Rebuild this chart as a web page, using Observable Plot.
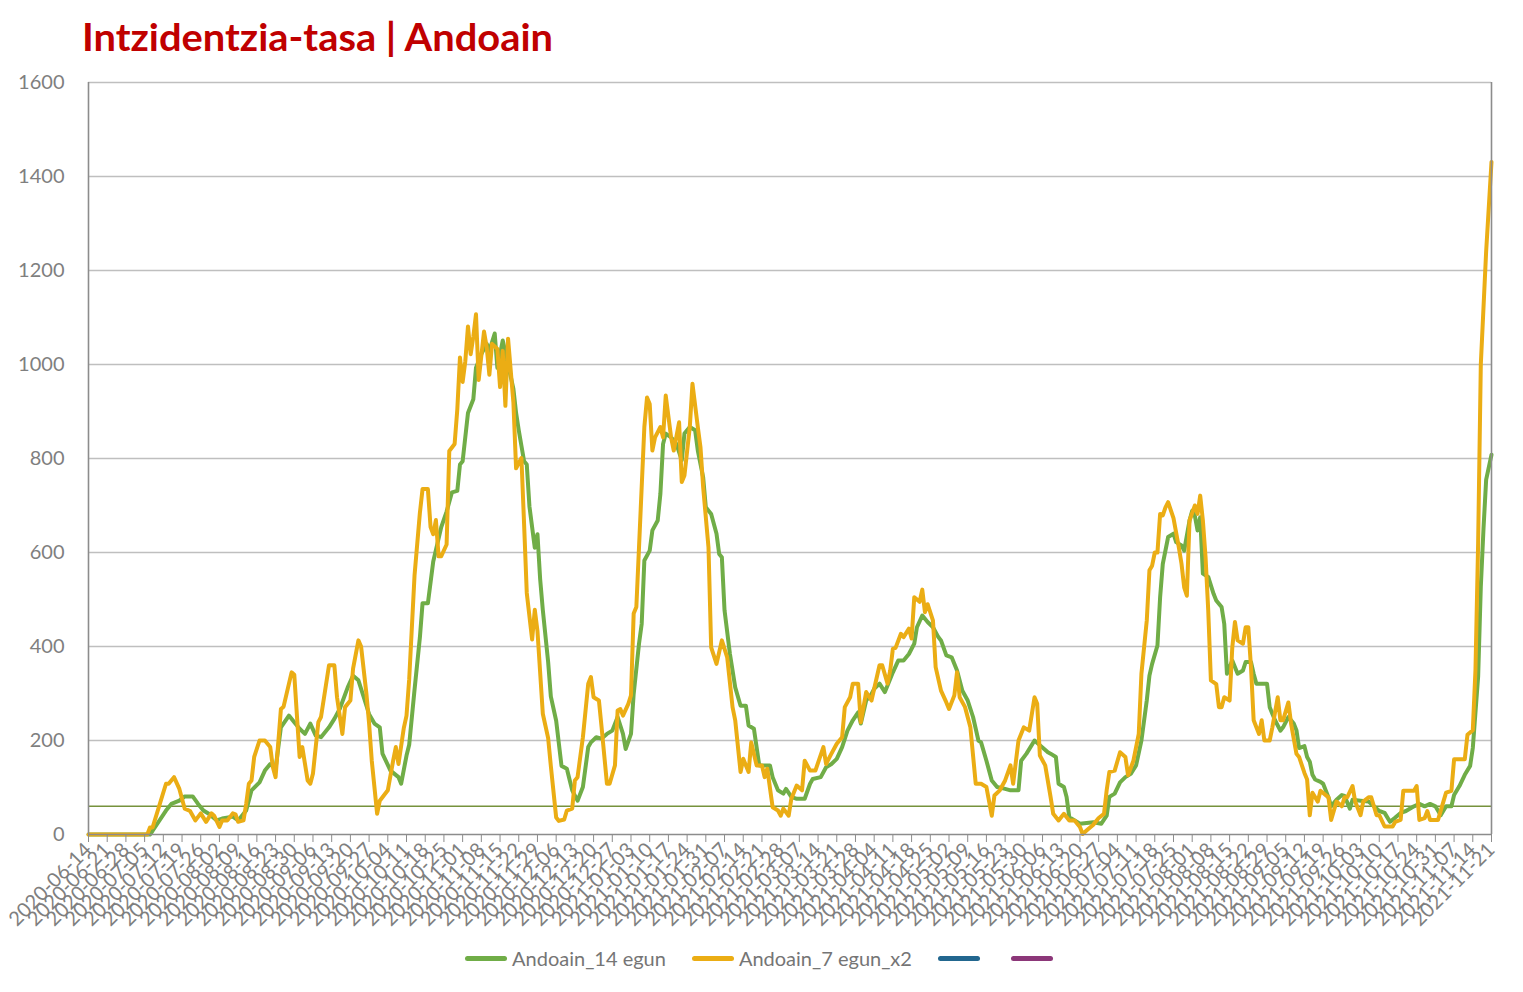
<!DOCTYPE html>
<html>
<head>
<meta charset="utf-8">
<script src="https://cdn.jsdelivr.net/npm/d3@7"></script>
<script src="https://cdn.jsdelivr.net/npm/@observablehq/plot@0.6"></script>
<style>
  html, body { margin: 0; padding: 0; background: #fff; }
  body { width: 1523px; height: 992px; position: relative; overflow: hidden; font-family: Lato, "Open Sans", sans-serif; }
  #title { position: absolute; left: 82px; top: 13px; font-size: 38px; font-weight: 700; color: #C00000; white-space: nowrap; transform-origin: 0 0; }
  #chart { position: absolute; left: 0; top: 0; }
  #legend { position: absolute; left: 0; width: 1523px; top: 946px; display: flex; justify-content: center; align-items: center; font-size: 20px; color: #757575; }
  .item { display: flex; align-items: center; margin: 0 13px; }
  .sw { width: 42px; height: 5px; border-radius: 3px; margin-right: 5px; }
</style>
</head>
<body>
<div id="title">Intzidentzia-tasa | Andoain</div>
<div id="chart"></div>
<div id="legend"></div>
<script>
// ---- data -------------------------------------------------------------
const startDate = "2020-06-14";   // day 0
const endDay = 525;               // 2021-11-21
const yTicks = [0, 200, 400, 600, 800, 1000, 1200, 1400, 1600];
const threshold = 60;
const seriesNames = ["Andoain_14 egun", "Andoain_7 egun_x2", "", ""];
const seriesColors = ["#70AD47", "#EBAD14", "#22678F", "#8C3779"];

// [day offset from startDate, value]
const andoain14 = [
[0,0],[23,0],[24,8],[29,51],[31,65],[34,72],[36,81],[39,81],[41,65],[43,51],[45,44],[48,30],[50,34],[54,38],[56,30],[59,51],
[61,94],[64,111],[66,136],[68,150],[70,140],[72,228],[75,253],[77,239],[79,225],[81,214],[83,236],[85,211],[87,207],[90,228],
[92,246],[94,267],[97,313],[99,338],[101,328],[103,292],[105,256],[107,236],[109,228],[110,172],[113,136],[116,122],[117,108],
[119,168],[120,191],[122,308],[124,419],[125,492],[127,492],[129,581],[132,654],[134,687],[136,728],[138,731],[139,787],[140,794],
[142,897],[144,926],[145,993],[147,1022],[149,1044],[150,1029],[152,1066],[153,993],[155,1051],[157,1000],[159,948],[160,897],
[161,860],[163,794],[164,787],[165,698],[167,610],[168,639],[169,544],[170,478],[172,367],[173,294],[175,242],[177,146],[179,140],
[181,94],[183,72],[185,101],[187,186],[188,196],[190,207],[192,204],[194,214],[196,221],[198,250],[200,214],[201,182],[203,214],
[204,299],[206,406],[207,448],[208,583],[210,604],[211,647],[213,668],[214,725],[215,831],[216,853],[218,845],[220,831],[222,796],
[223,853],[225,867],[227,860],[228,817],[230,760],[231,696],[233,682],[235,640],[236,597],[237,590],[238,477],[240,385],[242,313],
[244,274],[246,274],[247,232],[249,225],[251,147],[255,147],[256,122],[258,94],[260,87],[261,97],[263,80],[265,76],[268,76],
[270,108],[271,118],[274,122],[276,143],[278,150],[280,161],[282,186],[284,221],[286,243],[288,260],[289,236],[291,285],[293,299],
[294,310],[296,321],[298,303],[299,317],[301,345],[303,370],[305,370],[307,384],[309,406],[310,441],[312,466],[314,452],[316,441],
[318,420],[319,413],[321,381],[323,377],[325,349],[327,306],[329,285],[331,250],[333,200],[334,196],[336,157],[338,115],[340,101],
[343,97],[345,94],[348,94],[349,157],[351,172],[354,200],[356,190],[359,175],[360,172],[362,165],[363,108],[365,101],[366,80],
[367,37],[369,30],[371,23],[376,26],[379,23],[381,40],[382,80],[384,87],[386,111],[388,122],[390,129],[392,147],[394,200],[396,285],
[397,338],[398,363],[400,402],[401,505],[402,576],[404,633],[406,640],[407,622],[409,615],[410,604],[412,668],[413,689],[414,678],
[415,647],[416,675],[417,555],[419,548],[421,512],[422,498],[424,484],[425,448],[426,342],[428,370],[430,342],[432,349],[433,367],
[435,367],[436,342],[437,321],[441,321],[442,271],[444,243],[446,221],[447,228],[449,250],[451,236],[452,222],[453,184],[455,188],
[456,165],[457,155],[458,127],[459,117],[461,112],[462,108],[464,79],[465,60],[467,74],[469,84],[470,82],[472,55],[473,74],
[476,72],[479,70],[481,60],[483,50],[485,46],[487,27],[489,36],[491,46],[493,50],[496,60],[498,65],[500,60],[502,65],[504,60],
[506,41],[508,60],[510,60],[511,84],[513,103],[515,127],[517,146],[518,184],[520,336],[521,527],[522,650],[523,755],[525,808]
];

const andoain7x2 = [
[0,0],[22,0],[23,15],[24,15],[29,108],[30,108],[32,122],[34,97],[36,55],[38,50],[40,30],[42,45],[44,27],[46,45],[47,40],[49,16],
[50,30],[52,30],[54,45],[55,43],[56,27],[58,30],[59,65],[60,108],[61,115],[62,165],[64,200],[66,200],[68,186],[69,143],[70,122],
[72,267],[73,272],[76,345],[77,340],[79,165],[80,186],[82,115],[83,108],[84,130],[86,239],[87,250],[90,360],[92,360],[93,292],
[95,214],[96,271],[98,285],[99,353],[101,413],[102,400],[104,299],[105,236],[106,157],[108,44],[109,72],[112,94],[114,157],
[115,186],[116,150],[118,227],[119,253],[120,330],[122,551],[124,684],[125,735],[127,735],[128,654],[129,639],[130,669],[131,592],
[132,592],[134,617],[135,816],[137,831],[138,904],[139,1015],[140,963],[141,1007],[142,1081],[143,1022],[144,1059],[145,1107],
[146,967],[148,1070],[149,1037],[150,978],[151,1044],[153,1033],[154,952],[155,1029],[156,912],[157,1055],[159,919],[160,779],
[162,801],[163,660],[164,514],[166,415],[167,478],[168,433],[170,257],[172,205],[173,146],[175,36],[176,29],[178,32],[179,51],
[181,55],[182,115],[183,122],[185,207],[187,321],[188,335],[189,292],[191,285],[192,228],[194,108],[195,108],[197,147],[198,264],
[199,267],[200,253],[202,278],[203,296],[204,470],[205,484],[206,611],[208,867],[209,930],[210,916],[211,817],[212,845],[214,867],
[215,845],[216,934],[218,845],[219,817],[221,877],[222,750],[223,764],[225,867],[226,959],[228,867],[229,824],[230,739],[232,611],
[233,398],[235,363],[237,413],[239,377],[241,271],[242,243],[244,133],[245,161],[247,133],[248,196],[250,147],[252,147],[253,122],
[254,140],[256,58],[258,51],[259,40],[260,55],[262,40],[263,76],[265,104],[267,94],[268,157],[270,136],[272,136],[275,186],
[276,150],[278,172],[280,193],[282,207],[283,271],[285,292],[286,321],[288,321],[289,239],[291,303],[293,285],[294,310],[296,360],
[297,360],[299,321],[300,349],[301,395],[302,397],[304,427],[305,420],[307,438],[308,417],[309,505],[311,495],[312,521],[313,473],
[314,490],[316,455],[317,356],[319,306],[321,281],[322,267],[324,296],[325,345],[326,292],[328,271],[330,228],[332,108],[334,108],
[336,101],[338,40],[339,83],[341,94],[343,115],[345,147],[346,108],[348,200],[350,228],[352,221],[354,292],[355,278],[356,168],
[358,147],[360,80],[361,44],[363,30],[365,44],[367,30],[369,30],[371,16],[372,1],[374,11],[376,21],[378,35],[380,44],[381,94],
[382,133],[384,136],[386,175],[388,165],[389,126],[391,157],[393,214],[394,342],[396,455],[397,562],[398,572],[399,600],[400,600],
[401,682],[402,679],[403,696],[404,707],[406,673],[408,611],[409,576],[410,526],[411,508],[412,668],[414,700],[415,682],[416,721],
[417,668],[418,590],[419,477],[420,328],[422,320],[423,271],[424,271],[425,292],[427,285],[428,398],[429,452],[430,413],[432,406],
[433,441],[434,441],[435,356],[436,243],[438,214],[439,243],[440,200],[442,200],[443,228],[445,292],[446,243],[447,243],[449,281],
[450,236],[452,172],[453,165],[455,131],[456,117],[457,41],[458,89],[460,70],[461,93],[464,79],[465,31],[467,70],[469,60],[470,79],
[471,79],[473,103],[474,70],[476,41],[477,70],[479,79],[480,79],[482,41],[483,41],[485,17],[488,17],[489,27],[491,31],[492,93],
[496,93],[497,103],[498,31],[500,35],[501,50],[502,31],[505,31],[507,70],[508,89],[510,93],[511,160],[515,160],[516,212],[518,222],
[519,350],[520,620],[521,1000],[523,1241],[525,1431]
];

// ---- chart ------------------------------------------------------------
const t0 = new Date(startDate + "T00:00:00Z");
const dayToDate = d => d3.utcDay.offset(t0, d);
const xTicks = d3.range(0, endDay + 1, 7).map(dayToDate);
const axisColor = "#8c8c8c";
const textColor = "#7f7f7f";

const chart = Plot.plot({
  width: 1523,
  height: 940,
  marginTop: 82,
  marginLeft: 88,
  marginRight: 32,
  marginBottom: 106,
  style: { fontFamily: "Lato, 'Open Sans', sans-serif", background: "transparent", overflow: "visible" },
  x: { type: "utc", domain: [t0, dayToDate(endDay)] },
  y: { domain: [0, 1600] },
  marks: [
    Plot.gridY(yTicks.filter(v => v > 0), { stroke: "#bfbfbf", strokeOpacity: 1, strokeWidth: 1.4 }),
    Plot.ruleY([threshold], { stroke: "#76923C", strokeWidth: 1.6 }),
    Plot.line(andoain14, { x: d => dayToDate(d[0]), y: d => d[1], stroke: seriesColors[0], strokeWidth: 4, strokeLinejoin: "round", strokeLinecap: "round" }),
    Plot.line(andoain7x2, { x: d => dayToDate(d[0]), y: d => d[1], stroke: seriesColors[1], strokeWidth: 4, strokeLinejoin: "round", strokeLinecap: "round" }),
    Plot.ruleX([t0, dayToDate(endDay)], { stroke: axisColor, strokeWidth: 1.6 }),
    Plot.ruleY([0], { stroke: axisColor, strokeWidth: 1.6 }),
    Plot.axisY(yTicks, { tickSize: 0, tickPadding: 24, fontSize: 20, fill: textColor, label: null, tickFormat: d => String(d) }),
    Plot.axisX(xTicks, { tickSize: 8, stroke: axisColor, tickPadding: 4, tickRotate: -45, fontSize: 20, fill: textColor, tickFormat: d3.utcFormat("%Y-%m-%d"), label: null })
  ]
});
document.getElementById("chart").appendChild(chart);

// ---- legend -----------------------------------------------------------
const legend = document.getElementById("legend");
seriesNames.forEach((name, i) => {
  const it = document.createElement("div");
  it.className = "item";
  const sw = document.createElement("div");
  sw.className = "sw";
  sw.style.background = seriesColors[i];
  it.appendChild(sw);
  if (name) {
    const s = document.createElement("span");
    s.textContent = name;
    it.appendChild(s);
  }
  legend.appendChild(it);
});

// fit title width to reference (82 -> 553 px)
const title = document.getElementById("title");
const w = title.getBoundingClientRect().width;
title.style.transform = `scaleX(${471 / w})`;
</script>
</body>
</html>
